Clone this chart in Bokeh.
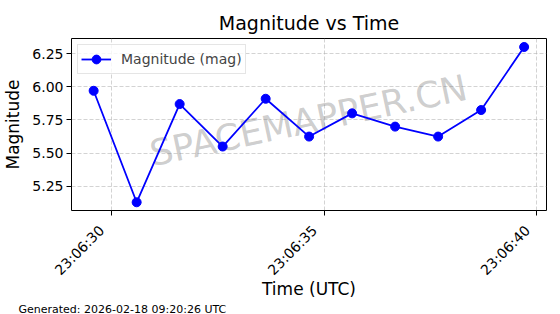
import math
import pandas as pd
from bokeh.plotting import figure
from bokeh.models import (FixedTicker, DatetimeTickFormatter, NumeralTickFormatter,
                          Range1d, Label, Title)
from bokeh.embed import file_html
from bokeh.resources import INLINE

# ---- data ----
times = ["2026-02-17 23:06:29.590", "2026-02-17 23:06:30.600", "2026-02-17 23:06:31.610",
         "2026-02-17 23:06:32.620", "2026-02-17 23:06:33.630", "2026-02-17 23:06:34.650",
         "2026-02-17 23:06:35.660", "2026-02-17 23:06:36.670", "2026-02-17 23:06:37.680",
         "2026-02-17 23:06:38.690", "2026-02-17 23:06:39.700"]
magnitude = [5.97, 5.13, 5.87, 5.55, 5.91, 5.625, 5.80, 5.70, 5.625, 5.825, 6.30]
x_tick_times = ["2026-02-17 23:06:30", "2026-02-17 23:06:35", "2026-02-17 23:06:40"]
x_tick_labels = ["23:06:30", "23:06:35", "23:06:40"]
y_ticks = [5.25, 5.50, 5.75, 6.00, 6.25]
x_limits = ["2026-02-17 23:06:29.070", "2026-02-17 23:06:40.225"]
y_limits = [5.068, 6.364]

title_text = "Magnitude vs Time"
x_label = "Time (UTC)"
y_label = "Magnitude"
series_label = "Magnitude (mag)"
watermark = "SPACEMAPPER.CN"
footer = "Generated: 2026-02-18 09:20:26 UTC"

FONT = "DejaVu Sans"

x_dt = pd.to_datetime(times)
to_ms = lambda s: pd.Timestamp(s).value / 1e6
x_ms = [t.value / 1e6 for t in x_dt]
x_tick_ms = [to_ms(t) for t in x_tick_times]

p = figure(width=560, height=314, output_backend="svg", toolbar_location=None,
           x_axis_type="datetime",
           x_range=Range1d(to_ms(x_limits[0]), to_ms(x_limits[1])),
           y_range=Range1d(y_limits[0], y_limits[1]),
           min_border_left=70, min_border_right=14, min_border_top=38, min_border_bottom=102)

p.title.text = title_text
p.title.align = "center"
p.title.text_font = FONT
p.title.text_font_size = "19px"
p.title.text_font_style = "normal"
p.title.text_color = "black"

p.outline_line_color = "black"
p.outline_line_width = 1
p.background_fill_color = "white"
p.border_fill_color = "white"

# footer as a bottom title
p.add_layout(Title(text=footer, align="left", offset=-53, text_font=FONT,
                   text_font_size="11px", text_font_style="normal", text_color="black",
                   standoff=-2), "below")

# axes
p.xaxis.ticker = FixedTicker(ticks=x_tick_ms)
p.xaxis.formatter = DatetimeTickFormatter(seconds="%H:%M:%S", milliseconds="%H:%M:%S",
                                          minsec="%H:%M:%S", minutes="%H:%M:%S")
# trailing no-break spaces push the rotated text away from the tick, as matplotlib does
p.xaxis.major_label_overrides = {t: lab + "\u00a0\u00a0\u00a0" for t, lab in zip(x_tick_ms, x_tick_labels)}
p.xaxis.major_label_orientation = math.pi / 4
p.yaxis.ticker = FixedTicker(ticks=y_ticks)
p.yaxis.formatter = NumeralTickFormatter(format="0.00")

for ax in (p.xaxis, p.yaxis):
    ax.axis_line_color = None
    ax.major_tick_in = 0
    ax.major_tick_out = 5
    ax.major_tick_line_color = "black"
    ax.minor_tick_line_color = None
    ax.major_label_text_font = FONT
    ax.major_label_text_font_size = "14px"
    ax.major_label_text_color = "black"
    ax.axis_label_text_font = FONT
    ax.axis_label_text_font_size = "17px"
    ax.axis_label_text_font_style = "normal"
    ax.axis_label_text_color = "black"
    ax.major_label_standoff = 3
    ax.axis_label_standoff = 6

p.xaxis.major_label_standoff = 3
p.xaxis.axis_label_standoff = -8

p.xaxis.axis_label = x_label
p.yaxis.axis_label = y_label

p.grid.grid_line_color = "#b0b0b0"
p.grid.grid_line_alpha = 0.7
p.grid.grid_line_dash = "4 2"
p.grid.grid_line_width = 0.8

# watermark (behind the data)
p.add_layout(Label(x=237, y=90, x_units="screen", y_units="screen", text=watermark,
                   angle=12, angle_units="deg", text_align="center", text_baseline="middle",
                   text_font=FONT, text_font_size="36px", text_color="gray", text_alpha=0.4,
                   level="underlay"))

# data
p.line(x_ms, magnitude, line_color="#0000ff", line_width=1.8, legend_label=series_label)
p.scatter(x_ms, magnitude, size=9, fill_color="#0000ff", line_color="#0000ff",
          legend_label=series_label)

p.legend.location = "top_left"
p.legend.label_text_font = FONT
p.legend.label_text_font_size = "14px"
p.legend.border_line_color = "#cccccc"
p.legend.background_fill_alpha = 0.8
p.legend.margin = 6
p.legend.padding = 3
p.legend.glyph_width = 30
p.legend.label_standoff = 10
p.legend.label_height = 22
p.legend.glyph_height = 22

open("out.html", "w").write(file_html(p, INLINE))
